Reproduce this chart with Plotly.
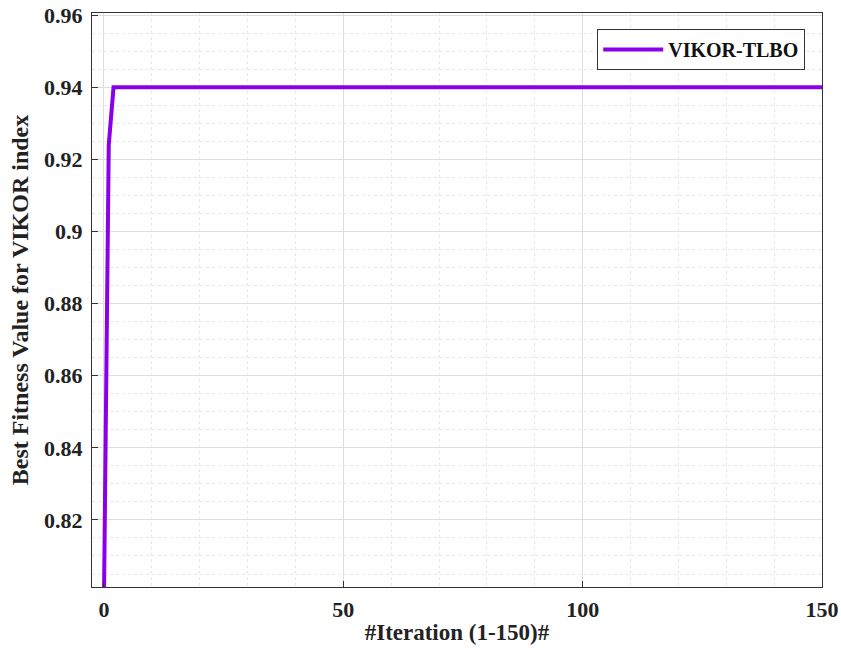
import plotly.graph_objects as go

# Data
iterations = list(range(0, 151))
best_fitness = [0.798, 0.924] + [0.94] * 149
series_name = "VIKOR-TLBO"
x_ticks = [0, 50, 100, 150]
y_ticks = [0.82, 0.84, 0.86, 0.88, 0.9, 0.92, 0.94, 0.96]

FONT = "Liberation Serif, Times New Roman, serif"
fig = go.Figure()
fig.add_trace(go.Scatter(
    x=iterations, y=best_fitness, mode="lines", name=series_name,
    line=dict(color="#8A00E8", width=4),
))

fig.update_layout(
    width=841, height=654,
    margin=dict(l=92, r=19, t=13, b=67, autoexpand=False),
    paper_bgcolor="white", plot_bgcolor="white",
    font=dict(family=FONT, color="#222222"),
    showlegend=True,
    legend=dict(
        x=0.977, y=0.972, xanchor="right", yanchor="top",
        bgcolor="white", bordercolor="#333333", borderwidth=1,
        font=dict(family=FONT, size=20, color="#111111", weight="bold"),
        itemwidth=60,
    ),
)

common = dict(
    showline=True, linecolor="#333333", linewidth=1.2, mirror=True,
    ticks="inside", ticklen=6, tickcolor="#333333",
    showgrid=True, gridcolor="#DDDDDD", gridwidth=1,
    zeroline=False, automargin=False,
    tickfont=dict(family=FONT, size=22, color="#222222", weight="bold"),
)

fig.update_xaxes(
    range=[-2.5, 150], tickvals=x_ticks, ticklabelstandoff=2,
    title=dict(text="#Iteration (1-150)#", standoff=3,
               font=dict(family=FONT, size=23, color="#222222", weight="bold")),
    minor=dict(dtick=10, tick0=0, showgrid=True, gridcolor="#E6E6E6",
               griddash="dot", gridwidth=1, ticks=""),
    **common,
)
fig.update_yaxes(
    range=[0.8014, 0.9606], tickvals=y_ticks, ticklabelstandoff=4,
    title=dict(text="Best Fitness Value for VIKOR index", standoff=8,
               font=dict(family=FONT, size=24, color="#222222", weight="bold")),
    minor=dict(dtick=0.005, tick0=0.8, showgrid=True, gridcolor="#E6E6E6",
               griddash="dot", gridwidth=1, ticks=""),
    **common,
)

fig.write_html("out.html")
